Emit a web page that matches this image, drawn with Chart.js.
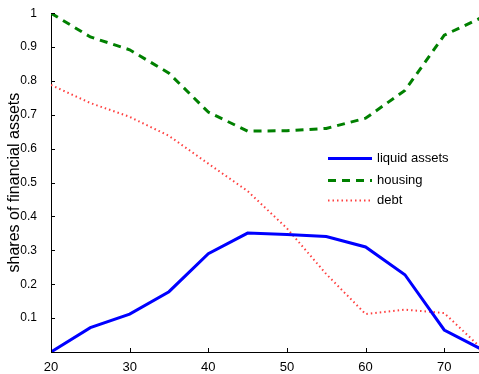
<!DOCTYPE html>
<html lang="en">
<head>
    <meta charset="UTF-8">
    <title>shares of financial assets</title>
    <style>
        html, body { margin: 0; padding: 0; background: #fff; }
        .chart_box { position: relative; width: 479px; height: 374px; }
    </style>
</head>
<body>
    <div class="chart_box">
        <canvas id="sharesChart" width="479" height="374"></canvas>
    </div>

    <script src="https://cdn.jsdelivr.net/npm/chart.js"></script>
    <script>
    // age groups (x) and the three series
    const ages = [20, 25, 30, 35, 40, 45, 50, 55, 60, 65, 70, 75];
    const liquidAssets = [0.0, 0.072, 0.112, 0.178, 0.29, 0.351, 0.347, 0.341, 0.31, 0.228, 0.065, 0.005];
    const housing = [1.0, 0.93, 0.892, 0.823, 0.708, 0.652, 0.653, 0.66, 0.69, 0.772, 0.935, 0.99];
    const debt = [0.788, 0.735, 0.694, 0.638, 0.556, 0.475, 0.365, 0.23, 0.112, 0.125, 0.115, 0.005];
    const seriesNames = ['liquid assets', 'housing', 'debt'];
    const xTicks = [20, 30, 40, 50, 60, 70];
    const yTicks = [0.1, 0.2, 0.3, 0.4, 0.5, 0.6, 0.7, 0.8, 0.9, 1];

    const fontFamily = '"Liberation Sans", Arial, Helvetica, sans-serif';

    function toPoints(values) {
        return ages.map((a, i) => ({ x: a, y: values[i] }));
    }

    // matlab style ticks pointing into the plot
    const innerTicks = {
        id: 'innerTicks',
        afterDraw(chart) {
            const ctx = chart.ctx;
            const area = chart.chartArea;
            const xs = chart.scales.x, ys = chart.scales.y;
            ctx.save();
            ctx.strokeStyle = '#000';
            ctx.lineWidth = 1;
            ctx.beginPath();
            xTicks.forEach(v => {
                const px = Math.round(xs.getPixelForValue(v)) + 0.5;
                ctx.moveTo(px, area.bottom);
                ctx.lineTo(px, area.bottom - 4);
            });
            yTicks.forEach(v => {
                const py = Math.round(ys.getPixelForValue(v)) + 0.5;
                ctx.moveTo(area.left, py);
                ctx.lineTo(area.left + 4, py);
            });
            ctx.stroke();
            ctx.restore();
        }
    };

    // legend inside the plot, no box, like the original
    const innerLegend = {
        id: 'innerLegend',
        afterDraw(chart) {
            const ctx = chart.ctx;
            const rows = [158, 180, 200];
            ctx.save();
            ctx.font = '13px ' + fontFamily;
            ctx.textBaseline = 'middle';
            chart.data.datasets.forEach((ds, i) => {
                const y = rows[i] + 0.5;
                ctx.strokeStyle = ds.borderColor;
                ctx.lineWidth = ds.borderWidth;
                ctx.setLineDash(ds.borderDash || []);
                ctx.beginPath();
                ctx.moveTo(328, y);
                ctx.lineTo(372, y);
                ctx.stroke();
                ctx.setLineDash([]);
                ctx.fillStyle = '#000';
                ctx.fillText(ds.label, 377, rows[i]);
            });
            ctx.restore();
        }
    };

    const ctx = document.getElementById('sharesChart').getContext('2d');
    new Chart(ctx, {
        type: 'line',
        data: {
            datasets: [
                {
                    label: seriesNames[0],
                    data: toPoints(liquidAssets),
                    borderColor: '#0000ff',
                    borderWidth: 3,
                    pointRadius: 0,
                    tension: 0,
                    fill: false,
                },
                {
                    label: seriesNames[1],
                    data: toPoints(housing),
                    borderColor: '#008000',
                    borderWidth: 3,
                    borderDash: [8, 6],
                    pointRadius: 0,
                    tension: 0,
                    fill: false,
                },
                {
                    label: seriesNames[2],
                    data: toPoints(debt),
                    borderColor: '#ff4040',
                    borderWidth: 2,
                    borderDash: [1.5, 3],
                    pointRadius: 0,
                    tension: 0,
                    fill: false,
                },
            ],
        },
        options: {
            responsive: false,
            animation: false,
            layout: { padding: { top: 12, right: 0, left: 0, bottom: 0 } },
            plugins: {
                legend: { display: false },
                tooltip: { enabled: false },
            },
            scales: {
                x: {
                    type: 'linear',
                    min: 20,
                    max: 74.42,
                    afterFit: s => { s.height = 22; },
                    afterBuildTicks: s => { s.ticks = xTicks.map(v => ({ value: v })); },
                    grid: { display: false },
                    border: { display: true, color: '#000', width: 1 },
                    ticks: {
                        color: '#000',
                        font: { family: fontFamily, size: 13 },
                        padding: 0,
                        maxRotation: 0,
                    },
                },
                y: {
                    type: 'linear',
                    min: 0,
                    max: 1,
                    afterFit: s => { s.width = 51; },
                    afterBuildTicks: s => { s.ticks = yTicks.map(v => ({ value: v })); },
                    grid: { display: false },
                    border: { display: true, color: '#000', width: 1 },
                    ticks: {
                        color: '#000',
                        font: { family: fontFamily, size: 12 },
                        padding: 6,
                        callback: v => String(Math.round(v * 10) / 10),
                    },
                    title: {
                        display: true,
                        text: 'shares of financial assets',
                        color: '#000',
                        font: { family: fontFamily, size: 16 },
                        padding: { top: 5, bottom: 0 },
                    },
                },
            },
        },
        plugins: [innerTicks, innerLegend],
    });
    </script>
</body>
</html>
